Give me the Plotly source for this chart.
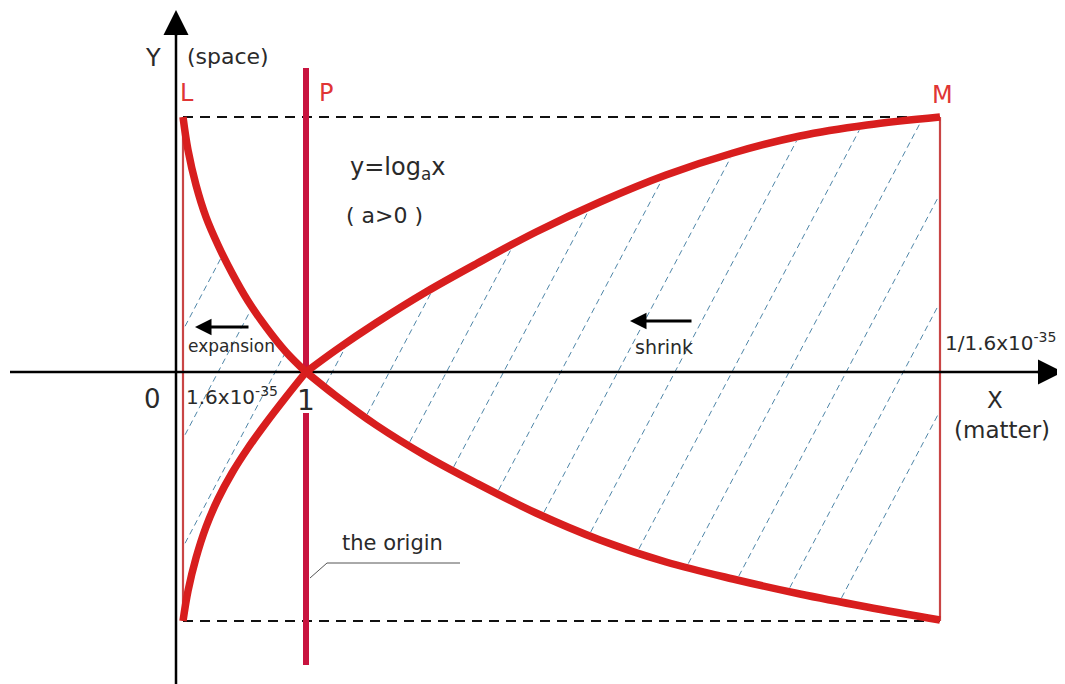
import numpy as np
import plotly.graph_objects as go

# ---- data (diagram coordinates: origin where the two axes cross) ----
ul_x = [7, 12, 20, 30, 42, 56, 72, 90, 110, 130]
ul_y = [255, 222, 187, 155, 127, 99, 71, 45, 20, 0]
ll_x = [7, 12, 20, 30, 42, 56, 72, 90, 110, 130]
ll_y = [-249, -219, -186, -155, -127, -101, -76, -51, -25, 0]
ur_x = [130, 160, 200, 250, 300, 360, 424, 490, 557, 624, 691, 764]
ur_y = [0, 22, 49, 80, 108, 140, 170, 197, 219, 236, 247, 255]
lr_x = [130, 160, 200, 250, 300, 360, 424, 490, 557, 624, 691, 764]
lr_y = [0, -24, -53, -84, -111, -141, -168, -190, -207, -222, -235, -248]

x_L, x_P, x_M = 7, 130, 764
y_top, y_bot = 255, -249

hatch_start, hatch_step, hatch_count, hatch_slope = -15, 57.1, 15, 1.9

RED = "#d81e1e"
CRIMSON = "#c8143f"
THIN_RED = "#c94545"
LBL_RED = "#e03535"
TXT = "#2a2a2a"
FONT = "DejaVu Sans"

fig = go.Figure()

# ---- hatching (clipped to the region enclosed by the curves) ----
def upper(x):
    return np.where(x <= x_P, np.interp(x, ul_x, ul_y), np.interp(x, ur_x, ur_y))

def lower(x):
    return np.where(x <= x_P, np.interp(x, ll_x, ll_y), np.interp(x, lr_x, lr_y))

hx, hy = [], []
for k in range(hatch_count):
    xc = hatch_start + k * hatch_step
    ys = np.linspace(y_bot - 5, y_top + 5, 3000)
    xs = xc + ys / hatch_slope
    inside = (xs >= x_L + 2) & (xs <= x_M - 2) & (ys <= upper(xs) - 4) & (ys >= lower(xs) + 4)
    run = False
    for xv, yv, ins in zip(xs, ys, inside):
        if ins:
            hx.append(float(xv)); hy.append(float(yv)); run = True
        elif run:
            hx.append(None); hy.append(None); run = False
    if run:
        hx.append(None); hy.append(None)

fig.add_trace(go.Scatter(x=hx, y=hy, mode="lines",
                         line=dict(color="#4f86a8", width=1, dash="6px,4px"),
                         hoverinfo="skip", showlegend=False))

# ---- dashed boundary lines ----
for yv in (y_top, y_bot):
    fig.add_trace(go.Scatter(x=[x_L, x_M], y=[yv, yv], mode="lines",
                             line=dict(color="#111", width=2, dash="10px,7px"),
                             hoverinfo="skip", showlegend=False))

# ---- thin red verticals L and M ----
for xv in (x_L, x_M):
    fig.add_trace(go.Scatter(x=[xv, xv], y=[y_top, y_bot], mode="lines",
                             line=dict(color=THIN_RED, width=2.2),
                             hoverinfo="skip", showlegend=False))

# ---- axes lines ----
fig.add_trace(go.Scatter(x=[-166, 870], y=[0, 0], mode="lines",
                         line=dict(color="#000", width=2.5), hoverinfo="skip", showlegend=False))
fig.add_trace(go.Scatter(x=[0, 0], y=[-312, 345], mode="lines",
                         line=dict(color="#000", width=2.5), hoverinfo="skip", showlegend=False))

# ---- P line (with a gap around the label "1") ----
fig.add_trace(go.Scatter(x=[x_P, x_P, None, x_P, x_P], y=[304, -1, None, -41, -293], mode="lines",
                         line=dict(color=CRIMSON, width=6), hoverinfo="skip", showlegend=False))

# ---- log curves ----
for cx, cy in ((ul_x, ul_y), (ll_x, ll_y), (ur_x, ur_y), (lr_x, lr_y)):
    fig.add_trace(go.Scatter(x=cx, y=cy, mode="lines",
                             line=dict(color=RED, width=7.5, shape="spline", smoothing=1.0),
                             hoverinfo="skip", showlegend=False))

# ---- leader line for "the origin" ----
fig.add_trace(go.Scatter(x=[134, 151, 284], y=[-206, -191, -191], mode="lines",
                         line=dict(color="#555", width=1), hoverinfo="skip", showlegend=False))

annotations = []

def arrow(x, y, ax, ay, w, size):
    annotations.append(dict(x=x, y=y, ax=ax, ay=ay, xref="x", yref="y", axref="x", ayref="y",
                            text="", showarrow=True, arrowhead=2, arrowsize=size,
                            arrowwidth=w, arrowcolor="#000", standoff=0, startstandoff=0))

arrow(887, 0, 860, 0, 2.5, 2.0)
arrow(0, 362, 0, 335, 2.5, 2.0)
arrow(19, 45, 74, 45, 3, 1.1)
arrow(454, 51, 517, 51, 3, 1.1)

def label(text, x, y, size, color=TXT, xanchor="center"):
    annotations.append(dict(x=x, y=y, xref="x", yref="y", text=text, showarrow=False,
                            xanchor=xanchor, yanchor="middle",
                            font=dict(family=FONT, size=size, color=color)))

label("Y", -23, 314, 24)
label("(space)", 9, 316, 22, xanchor="left")
label("L", 11, 279, 24, LBL_RED)
label("P", 150, 279, 24, LBL_RED)
label("M", 766, 277, 24, LBL_RED)
label("y=log<sub>a</sub>x", 172, 204, 24, xanchor="left")
label("( a>0 )", 168, 157, 22, xanchor="left")
label("expansion", 55, 26, 17)
label("shrink", 488, 25, 19)
label("1/1.6x10<sup>-35</sup>", 767, 30, 20, xanchor="left")
label("0", -24, -27, 26)
label("1.6x10<sup>-35</sup>", 8, -24, 20, xanchor="left")
label("1", 130, -28, 28)
label("X", 819, -28, 23)
label("(matter)", 826, -58, 23)
label("the origin", 216, -171, 21)

# the page body has an 8px margin; size and ranges keep 1 unit = 1 pixel
fig.update_layout(
    width=1057, height=676,
    margin=dict(l=0, r=0, t=0, b=0),
    paper_bgcolor="white", plot_bgcolor="white",
    xaxis=dict(range=[-168, 889], visible=False, fixedrange=True),
    yaxis=dict(range=[-312, 364], visible=False, fixedrange=True),
    annotations=annotations,
    showlegend=False,
)

fig.write_html("out.html")
